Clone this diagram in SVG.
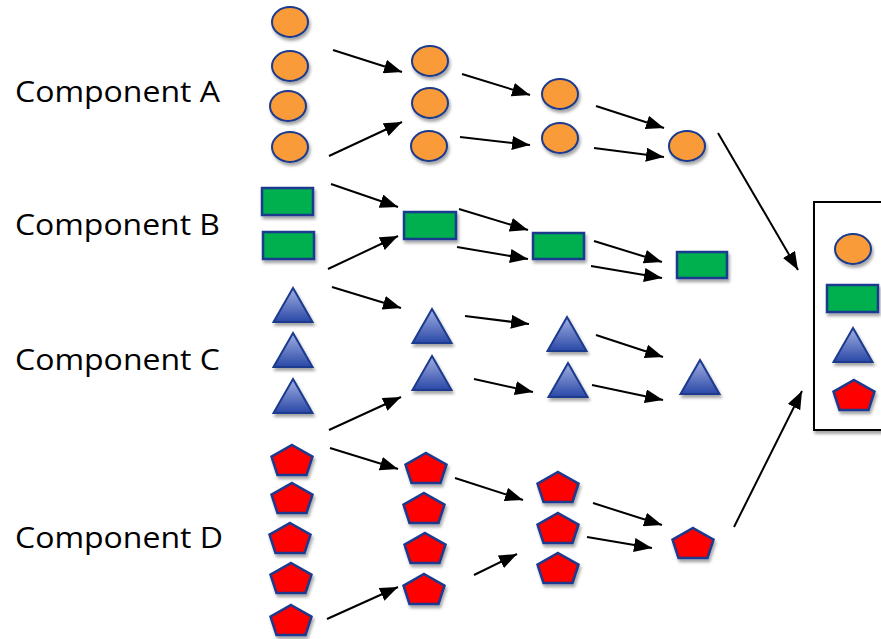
<svg xmlns="http://www.w3.org/2000/svg" xmlns:xlink="http://www.w3.org/1999/xlink" width="881" height="639" viewBox="0 0 881 639">
<style>
.lbl{font-family:"Open Sans","Liberation Sans",sans-serif;font-size:29px;fill:#000}
.circ{fill:#F99B38;stroke:#1A3A8E;stroke-width:2}
.rect{fill:#00B050;stroke:#1A3A8E;stroke-width:2.5}
.tri{fill:url(#tg);stroke:#1A3A8E;stroke-width:2}
.pent{fill:#FF0000;stroke:#1A3A8E;stroke-width:2.5}
.node{filter:url(#sh)}
.arr{stroke:#000;stroke-width:2;fill:none;marker-end:url(#ah)}
</style>
<defs>
<filter id="sh" x="-30%" y="-30%" width="160%" height="170%">
<feDropShadow dx="1.5" dy="3" stdDeviation="1.8" flood-color="#000" flood-opacity="0.35"/>
</filter>
<linearGradient id="tg" x1="0" y1="0" x2="0" y2="1">
<stop offset="0" stop-color="#A3B0E3"/>
<stop offset="1" stop-color="#2A48A6"/>
</linearGradient>
<marker id="ah" viewBox="0 0 10 10" refX="10" refY="5" markerUnits="userSpaceOnUse" markerWidth="18" markerHeight="14" orient="auto" preserveAspectRatio="none">
<path d="M0,0 L10,5 L0,10 z" fill="#000"/>
</marker>
<ellipse id="c" class="circ" cx="0" cy="0" rx="18" ry="15"/>
<path id="t" class="tri" d="M0,0 L19.5,34 L-19.5,34 Z"/>
<path id="p" class="pent" d="M0,-15 L20.5,-3.3 L14.5,15 L-14.5,15 L-20.5,-3.3 Z"/>
</defs>
<rect width="881" height="639" fill="#fff"/>

<g id="labels">
<text class="lbl" x="15" y="102" textLength="205" lengthAdjust="spacingAndGlyphs">Component A</text>
<text class="lbl" x="15" y="235" textLength="205" lengthAdjust="spacingAndGlyphs">Component B</text>
<text class="lbl" x="15" y="370" textLength="205" lengthAdjust="spacingAndGlyphs">Component C</text>
<text class="lbl" x="15" y="548" textLength="208" lengthAdjust="spacingAndGlyphs">Component D</text>
</g>

<g id="result-box" class="node">
<rect x="814" y="202" width="90" height="228" fill="#fff" stroke="#000" stroke-width="2"/>
</g>

<g id="connectors">
<line class="arr" x1="333" y1="50" x2="402" y2="72"/>
<line class="arr" x1="329" y1="156" x2="402" y2="122"/>
<line class="arr" x1="462" y1="74" x2="530" y2="95"/>
<line class="arr" x1="460" y1="137" x2="530" y2="145"/>
<line class="arr" x1="596" y1="106" x2="664" y2="128"/>
<line class="arr" x1="594" y1="148" x2="664" y2="157"/>
<line class="arr" x1="718" y1="133" x2="798" y2="270"/>
<line class="arr" x1="331" y1="184" x2="398" y2="207"/>
<line class="arr" x1="328" y1="269" x2="398" y2="236"/>
<line class="arr" x1="459" y1="209" x2="528" y2="230"/>
<line class="arr" x1="457" y1="247" x2="528" y2="259"/>
<line class="arr" x1="594" y1="241" x2="662" y2="262"/>
<line class="arr" x1="591" y1="266" x2="662" y2="278"/>
<line class="arr" x1="332" y1="287" x2="401" y2="308"/>
<line class="arr" x1="329" y1="430" x2="401" y2="397"/>
<line class="arr" x1="465" y1="316" x2="529" y2="324"/>
<line class="arr" x1="474" y1="379" x2="533" y2="392"/>
<line class="arr" x1="596" y1="335" x2="663" y2="357"/>
<line class="arr" x1="592" y1="385" x2="663" y2="400"/>
<line class="arr" x1="330" y1="448" x2="398" y2="469"/>
<line class="arr" x1="327" y1="619" x2="398" y2="587"/>
<line class="arr" x1="455" y1="478" x2="523" y2="500"/>
<line class="arr" x1="474" y1="575" x2="517" y2="554"/>
<line class="arr" x1="593" y1="503" x2="662" y2="525"/>
<line class="arr" x1="587" y1="537" x2="652" y2="548"/>
<line class="arr" x1="734" y1="527" x2="802" y2="391"/>
</g>

<g id="a1" class="node"><use xlink:href="#c" x="290" y="22"/></g>
<g id="a2" class="node"><use xlink:href="#c" x="290" y="66"/></g>
<g id="a3" class="node"><use xlink:href="#c" x="288" y="106"/></g>
<g id="a4" class="node"><use xlink:href="#c" x="290" y="147"/></g>
<g id="a5" class="node"><use xlink:href="#c" x="430" y="61"/></g>
<g id="a6" class="node"><use xlink:href="#c" x="430" y="103"/></g>
<g id="a7" class="node"><use xlink:href="#c" x="429" y="146"/></g>
<g id="a8" class="node"><use xlink:href="#c" x="560" y="94"/></g>
<g id="a9" class="node"><use xlink:href="#c" x="560" y="138"/></g>
<g id="a10" class="node"><use xlink:href="#c" x="687" y="146"/></g>
<g id="a11" class="node"><use xlink:href="#c" x="853" y="249"/></g>

<g id="b1" class="node"><rect class="rect" x="262" y="188" width="51" height="27"/></g>
<g id="b2" class="node"><rect class="rect" x="263" y="232" width="51" height="27"/></g>
<g id="b3" class="node"><rect class="rect" x="404" y="212" width="52" height="27"/></g>
<g id="b4" class="node"><rect class="rect" x="533" y="233" width="51" height="26"/></g>
<g id="b5" class="node"><rect class="rect" x="677" y="252" width="50" height="26"/></g>
<g id="b6" class="node"><rect class="rect" x="827" y="285" width="51" height="27"/></g>

<g id="c1" class="node"><use xlink:href="#t" x="293" y="288"/></g>
<g id="c2" class="node"><use xlink:href="#t" x="293" y="333"/></g>
<g id="c3" class="node"><use xlink:href="#t" x="293" y="379"/></g>
<g id="c4" class="node"><use xlink:href="#t" x="432" y="309"/></g>
<g id="c5" class="node"><use xlink:href="#t" x="432" y="356"/></g>
<g id="c6" class="node"><use xlink:href="#t" x="567" y="317"/></g>
<g id="c7" class="node"><use xlink:href="#t" x="568" y="363"/></g>
<g id="c8" class="node"><use xlink:href="#t" x="700" y="360"/></g>
<g id="c9" class="node"><use xlink:href="#t" x="853" y="328"/></g>

<g id="d1" class="node"><use xlink:href="#p" x="292" y="460"/></g>
<g id="d2" class="node"><use xlink:href="#p" x="292" y="498"/></g>
<g id="d3" class="node"><use xlink:href="#p" x="290" y="538"/></g>
<g id="d4" class="node"><use xlink:href="#p" x="291" y="578"/></g>
<g id="d5" class="node"><use xlink:href="#p" x="291" y="620"/></g>
<g id="d6" class="node"><use xlink:href="#p" x="426" y="468"/></g>
<g id="d7" class="node"><use xlink:href="#p" x="424" y="508"/></g>
<g id="d8" class="node"><use xlink:href="#p" x="425" y="548"/></g>
<g id="d9" class="node"><use xlink:href="#p" x="424" y="589"/></g>
<g id="d10" class="node"><use xlink:href="#p" x="558" y="487"/></g>
<g id="d11" class="node"><use xlink:href="#p" x="558" y="528"/></g>
<g id="d12" class="node"><use xlink:href="#p" x="558" y="568"/></g>
<g id="d13" class="node"><use xlink:href="#p" x="693" y="543"/></g>
<g id="d14" class="node"><use xlink:href="#p" x="854" y="395"/></g>
</svg>
